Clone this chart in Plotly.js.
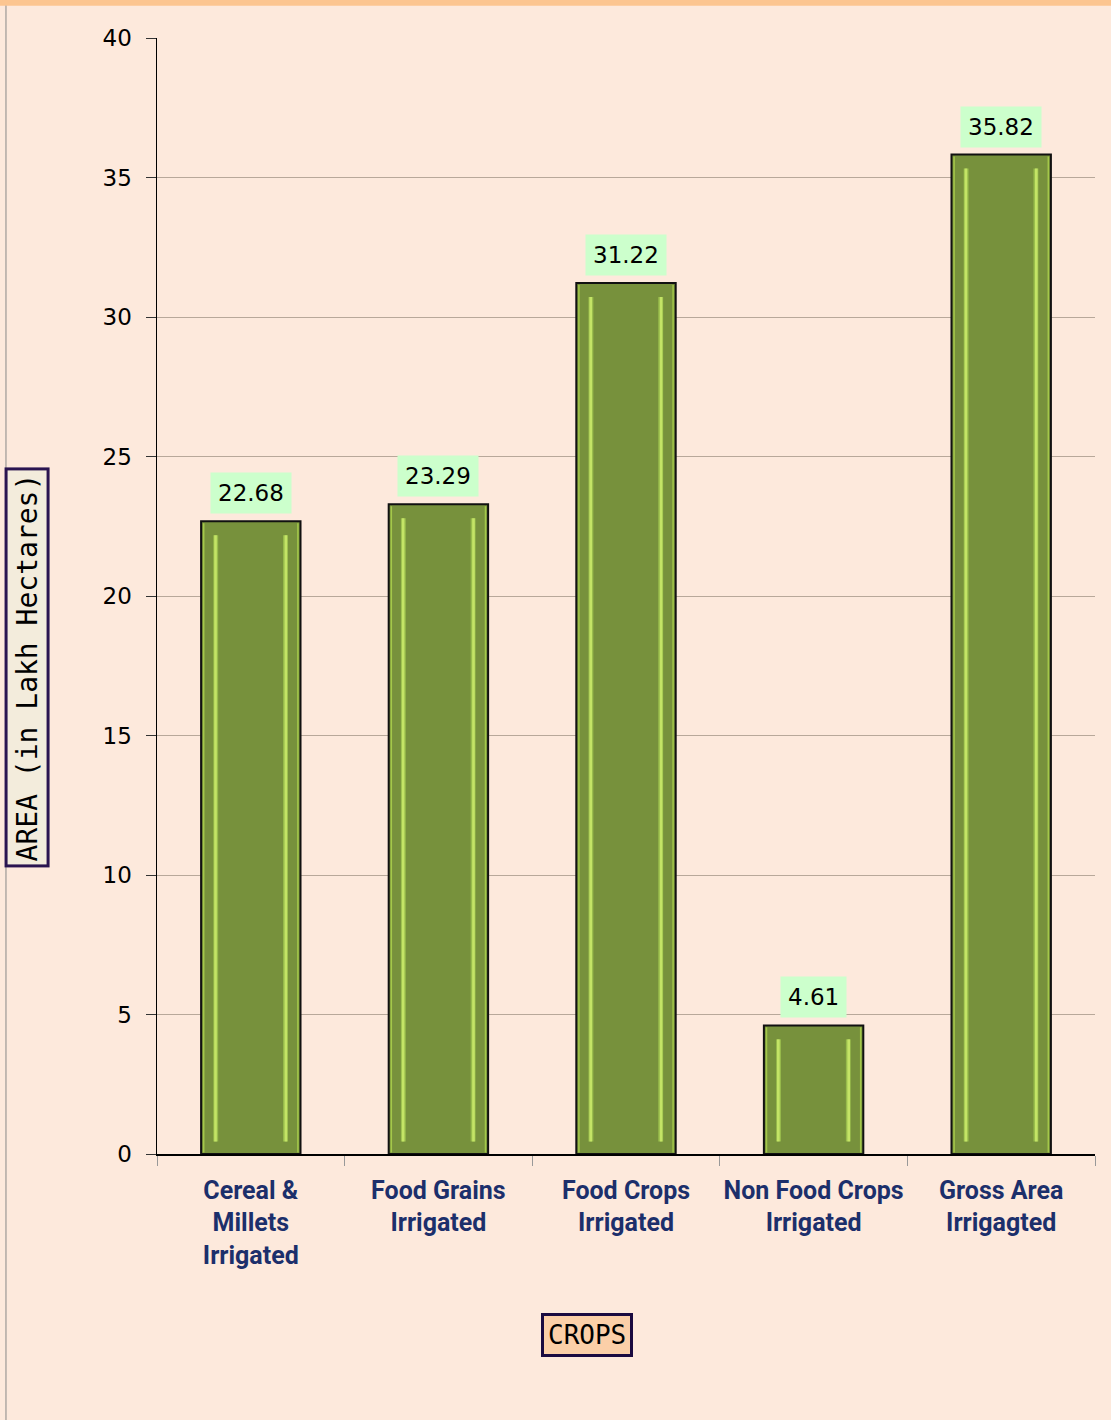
<!DOCTYPE html>
<html>
<head>
<meta charset="utf-8">
<script src="https://cdn.plot.ly/plotly-3.0.1.min.js"></script>
<style>
html,body{margin:0;padding:0;background:#fde9dc;}
#chart{width:1111px;height:1420px;}
</style>
</head>
<body>
<div id="chart"></div>
<script>
const categories = ["Cereal &<br>Millets<br>Irrigated", "Food Grains<br>Irrigated", "Food Crops<br>Irrigated", "Non Food Crops<br>Irrigated", "Gross Area<br>Irrigagted"];
const values = [22.68, 23.29, 31.22, 4.61, 35.82];
const labels = ["22.68", "23.29", "31.22", "4.61", "35.82"];
const yTicks = [0, 5, 10, 15, 20, 25, 30, 35, 40];

const mainBar = {
  type: "bar",
  x: categories,
  y: values,
  width: 0.53,
  marker: {color: "#77913c", line: {color: "#111111", width: 2}},
  hoverinfo: "none"
};

// light bevel stripes inside each bar (decoration derived from the values)
function stripe(offset, color, w) {
  return {
    type: "bar",
    x: categories,
    y: values.map(v => v - 0.95),
    base: 0.45,
    width: w,
    offset: offset,
    marker: {color: color, line: {width: 0}},
    hoverinfo: "none"
  };
}
function edge(offset) {
  return {
    type: "bar",
    x: categories,
    y: values.map(v => v - 0.12),
    base: 0.05,
    width: 0.008,
    offset: offset,
    marker: {color: "#a4c84a", line: {width: 0}},
    hoverinfo: "none"
  };
}

const annotations = categories.map((c, i) => ({
  x: c, y: values[i], xref: "x", yref: "y",
  text: labels[i], showarrow: false, yanchor: "bottom", yshift: 7,
  bgcolor: "#ccffcc", borderpad: 7,
  font: {family: "DejaVu Sans, sans-serif", size: 23, color: "#000000"}
}));

annotations.push({
  xref: "paper", yref: "paper", x: -0.1386, y: 0.436, xanchor: "center", yanchor: "middle",
  text: "AREA (in Lakh Hectares)", textangle: -90, showarrow: false,
  bgcolor: "#f3ecdc", bordercolor: "#2a1450", borderwidth: 3, borderpad: 3,
  font: {family: "DejaVu Sans Mono, monospace", size: 28, color: "#000000"}
});
annotations.push({
  xref: "paper", yref: "paper", x: 0.458, y: -0.162, xanchor: "center", yanchor: "middle",
  text: "CROPS", showarrow: false,
  bgcolor: "#fbcfa8", bordercolor: "#1a0a40", borderwidth: 3, borderpad: 4,
  font: {family: "DejaVu Sans Mono, monospace", size: 26, color: "#000000"}
});

const layout = {
  width: 1111, height: 1420,
  paper_bgcolor: "#fde9dc", plot_bgcolor: "#fde9dc",
  margin: {l: 157, r: 16, t: 38, b: 266},
  barmode: "overlay",
  showlegend: false,
  xaxis: {
    type: "category",
    tickangle: 0,
    tickson: "boundaries", ticks: "outside", ticklen: 10, tickcolor: "#999999",
    ticklabelstandoff: 13,
    showline: true, linecolor: "#000000", linewidth: 1.5,
    tickfont: {family: "Roboto, sans-serif", size: 25, color: "#1c2f6b", weight: 700},
    showgrid: false
  },
  yaxis: {
    range: [0, 40], tickvals: yTicks, ticktext: yTicks.map(String),
    ticks: "outside", ticklen: 10, tickcolor: "#333333",
    ticklabelstandoff: 9,
    showline: true, linecolor: "#000000", linewidth: 1.5,
    gridcolor: "#b8a89a", gridwidth: 1,
    tickfont: {family: "DejaVu Sans, sans-serif", size: 23, color: "#000000"},
    zeroline: false
  },
  annotations: annotations,
  shapes: [
    {type: "rect", xref: "paper", yref: "paper", x0: -0.2, x1: 1.1, y0: 1.029, y1: 1.1, fillcolor: "#fcc590", line: {width: 0}, layer: "below"},
    {type: "line", xref: "paper", yref: "paper", x0: -0.161, x1: -0.161, y0: -0.24, y1: 1.029, line: {color: "#888888", width: 1}}
  ]
};

const traces = [
  mainBar,
  stripe(-0.2, "#98bc4c", 0.026), stripe(-0.195, "#c4e466", 0.014),
  stripe(0.172, "#98bc4c", 0.026), stripe(0.18, "#c4e466", 0.014),
  edge(-0.255), edge(0.247)
];
Plotly.newPlot("chart", traces, layout, {displayModeBar: false, staticPlot: true});
</script>
</body>
</html>
